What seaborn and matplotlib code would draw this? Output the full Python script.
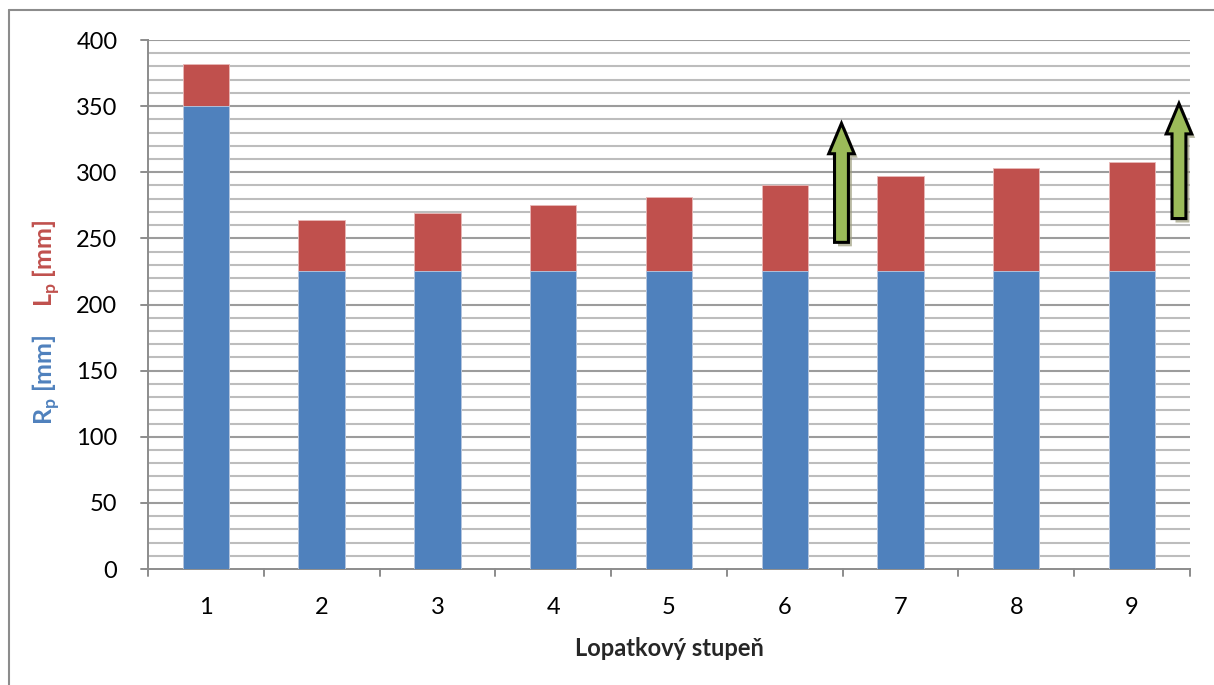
import matplotlib
matplotlib.use("Agg")
import matplotlib.pyplot as plt
import matplotlib.patches as mpatches
import matplotlib.lines as mlines
import seaborn as sns
import pandas as pd

stages = ['1', '2', '3', '4', '5', '6', '7', '8', '9']
rp = [350, 225, 225, 225, 225, 225, 225, 225, 225]
lp = [32, 39, 44, 50, 56, 65, 72, 78, 83]

# green arrows (x position in bar index units, y from -> to)
arrow_x = [5.49, 8.405]
arrow_y0 = [247, 265]
arrow_y1 = [337, 352]

df = pd.DataFrame({'stage': stages, 'rp': rp, 'lp': lp})
df['total'] = df['rp'] + df['lp']

sns.set_style('white')
plt.rcParams['font.family'] = ['Lato', 'DejaVu Sans']

fig = plt.figure(figsize=(12.14, 6.85), dpi=100)
ax = fig.add_axes([0.1219, 0.1693, 0.8583, 0.7723])

# gridlines
for v in range(10, 400, 10):
    ax.axhline(v, color='#9c9c9c' if v % 50 == 0 else '#bdbdbd', lw=1.5, zorder=0)
ax.axhline(400, color='#9c9c9c', lw=1.5, zorder=0)

sns.barplot(data=df, x='stage', y='total', color='#C0504D', width=0.4,
            saturation=1, edgecolor='#e8b8b7', linewidth=0.6, ax=ax, zorder=2)
sns.barplot(data=df, x='stage', y='rp', color='#4F81BD', width=0.4,
            saturation=1, edgecolor='#b9cde5', linewidth=0.6, ax=ax, zorder=3)

ax.set_xlim(-0.5, 8.5)
ax.set_ylim(0, 400)
ax.set_yticks(range(0, 401, 50))
ax.set_xticks(range(9))
ax.set_xticklabels(stages)
ax.tick_params(axis='both', labelsize=17, colors='black', length=0)
ax.tick_params(axis='y', pad=22)
ax.tick_params(axis='x', pad=20)

for s in ['top', 'right']:
    ax.spines[s].set_visible(False)
for s in ['left', 'bottom']:
    ax.spines[s].set_color('#8c8c8c')
    ax.spines[s].set_linewidth(1.4)

# tick marks like excel: y outside at majors, x at category boundaries
for v in range(0, 401, 50):
    ax.add_line(mlines.Line2D([-0.56, -0.5], [v, v], color='#8c8c8c', lw=1.4, clip_on=False))
for b in range(10):
    ax.add_line(mlines.Line2D([b - 0.5, b - 0.5], [0, -5], color='#8c8c8c', lw=1.4, clip_on=False))

ax.set_xlabel('Lopatkový stupeň', fontsize=17, fontweight='bold', labelpad=14)
ax.set_ylabel('')

# arrows with shadow
for x, y0, y1 in zip(arrow_x, arrow_y0, arrow_y1):
    shadow = mpatches.FancyArrow(x + 0.03, y0 - 3, 0, y1 - y0, width=0.12, head_width=0.22,
                                 head_length=23, length_includes_head=True,
                                 facecolor='#9a9a7a', edgecolor='none', alpha=0.7,
                                 zorder=4, clip_on=False)
    ax.add_patch(shadow)
    arr = mpatches.FancyArrow(x, y0, 0, y1 - y0, width=0.12, head_width=0.22,
                              head_length=23, length_includes_head=True,
                              facecolor='#9BBB59', edgecolor='black', linewidth=2.2,
                              zorder=5, clip_on=False)
    ax.add_patch(arr)

# two-colour y label
fig.text(0.038, 0.445, r'R$_\mathregular{p}$ [mm]', rotation=90, color='#4F81BD',
         fontsize=18, fontweight='bold', ha='center', va='center')
fig.text(0.038, 0.615, r'L$_\mathregular{p}$ [mm]', rotation=90, color='#C0504D',
         fontsize=18, fontweight='bold', ha='center', va='center')

# chart border
fig.add_artist(mlines.Line2D([0.0075, 0.0075], [0, 0.986], color='#8c8c8c', lw=1.5))
fig.add_artist(mlines.Line2D([0.0075, 1], [0.986, 0.986], color='#8c8c8c', lw=1.5))

fig.savefig('out.png', dpi=100)
